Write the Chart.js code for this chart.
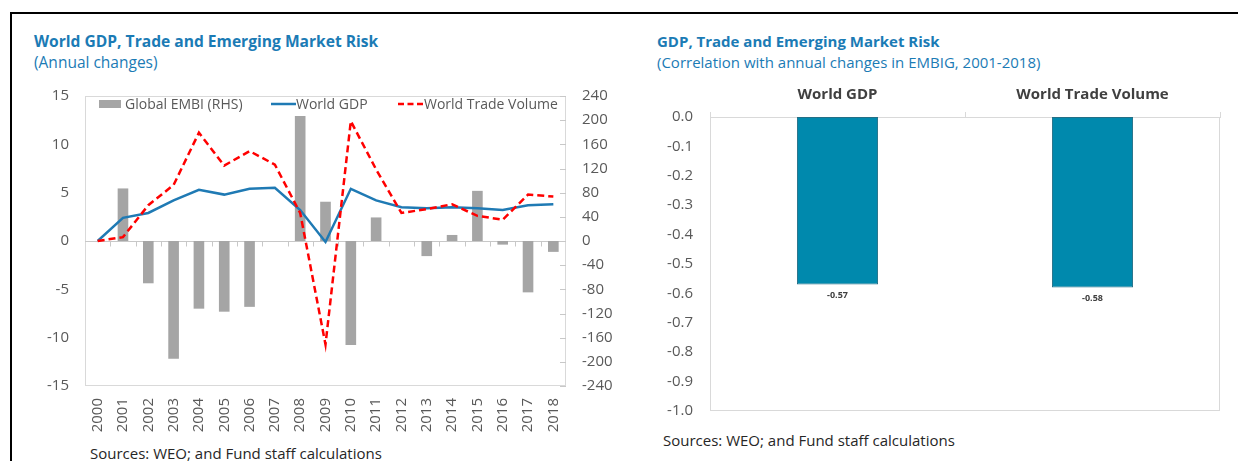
<!DOCTYPE html>
<html>
<head>
<meta charset="utf-8">
<script src="https://cdn.jsdelivr.net/npm/chart.js@4.4.1/dist/chart.umd.min.js"></script>
<style>
  body { margin: 0; width: 1238px; height: 461px; position: relative; background: #fff; overflow: hidden; font-family: "Open Sans", sans-serif; }
  .frame { position: absolute; left: 10px; top: 12px; right: 0; bottom: -5px; border-top: 2px solid #000; border-left: 2px solid #000; }
  .title { position: absolute; font-size: 15px; font-weight: 700; color: #1b7bb5; line-height: 20px; white-space: nowrap; }
  .sub { position: absolute; font-size: 15px; color: #1b7bb5; line-height: 20px; white-space: nowrap; }
  .src { position: absolute; font-size: 15px; color: #262626; line-height: 20px; white-space: nowrap; }
  .leg { position: absolute; font-size: 14px; color: #595959; line-height: 16px; top: 96px; white-space: nowrap; }
  canvas { position: absolute; }
</style>
</head>
<body>
<div class="frame"></div>

<div class="title" style="left:34px;top:31px;font-size:15.6px">World GDP, Trade and Emerging Market Risk</div>
<div class="sub" style="left:34px;top:52px;font-size:15.5px">(Annual changes)</div>
<canvas id="chartLeft" width="600" height="360" style="left:20px;top:80px"></canvas>
<div style="position:absolute;left:99px;top:100px;width:22px;height:8px;background:#a5a5a5"></div>
<div class="leg" style="left:125px">Global EMBI (RHS)</div>
<svg style="position:absolute;left:271px;top:101px" width="25" height="6"><line x1="0" y1="3" x2="25" y2="3" stroke="#1f7ab4" stroke-width="2.5"/></svg>
<div class="leg" style="left:296px">World GDP</div>
<svg style="position:absolute;left:398px;top:101px" width="26" height="6"><line x1="0" y1="3" x2="26" y2="3" stroke="#ff0000" stroke-width="2.5" stroke-dasharray="6,3.5"/></svg>
<div class="leg" style="left:424px">World Trade Volume</div>
<div class="src" style="left:90px;top:443px">Sources: WEO; and Fund staff calculations</div>

<div class="title" style="left:657px;top:31px">GDP, Trade and Emerging Market Risk</div>
<div class="sub" style="left:657px;top:52px">(Correlation with annual changes in EMBIG, 2001-2018)</div>
<canvas id="chartRight" width="598" height="345" style="left:640px;top:70px"></canvas>
<div class="src" style="left:663px;top:430px">Sources: WEO; and Fund staff calculations</div>

<script>
// left panel data
const years = ['2000', '2001', '2002', '2003', '2004', '2005', '2006', '2007', '2008', '2009',
  '2010', '2011', '2012', '2013', '2014', '2015', '2016', '2017', '2018'];
const embiChange = [0, 87, -70, -195, -112, -117, -109, 0, 207, 65, -172, 39, 0, -25, 10, 83, -6, -85, -18];
const worldGdp = [0, 2.4, 2.9, 4.2, 5.3, 4.8, 5.4, 5.5, 3.2, -0.1, 5.4, 4.2, 3.5, 3.4, 3.5, 3.4, 3.2, 3.7, 3.8];
const worldTrade = [0, 0.4, 3.7, 5.8, 11.2, 7.8, 9.3, 7.9, 2.9, -10.7, 12.4, 7.4, 2.9, 3.3, 3.8, 2.6, 2.2, 4.8, 4.6];
const leftTicks = [-15, -10, -5, 0, 5, 10, 15];
const rightTicks = [-240, -200, -160, -120, -80, -40, 0, 40, 80, 120, 160, 200, 240];

// right panel data
const corrLabels = ['World GDP', 'World Trade Volume'];
const corrValues = [-0.57, -0.58];

const tickFont = { family: 'Open Sans', size: 15 };
const tickColor = '#595959';
const lineGray = '#d9d9d9';

// keep the axes from pushing the plot area in for half-label padding
function noEdgePadding(s) {
  s.paddingTop = 0;
  s.paddingBottom = 0;
  s.paddingLeft = 0;
  s.paddingRight = 0;
}

// plot frame, zero line with small ticks, inner ticks on the right axis
const frameLines = {
  id: 'frameLines',
  beforeDatasetsDraw(chart, args, opts) {
    const { ctx, chartArea: a, scales } = chart;
    ctx.save();
    ctx.lineWidth = 1;
    ctx.strokeStyle = lineGray;
    ctx.strokeRect(a.left + 0.5, a.top + 0.5, a.width - 1, a.height - 1);
    if (opts.zeroLine) {
      ctx.strokeStyle = '#c8c8c8';
      ctx.beginPath();
      const y0 = Math.round(scales.y.getPixelForValue(0)) + 0.5;
      ctx.moveTo(a.left, y0);
      ctx.lineTo(a.right, y0);
      const x = scales.x;
      for (let i = 1; i < x.ticks.length; i++) {
        const bx = Math.round((x.getPixelForTick(i - 1) + x.getPixelForTick(i)) / 2) + 0.5;
        ctx.moveTo(bx, y0);
        ctx.lineTo(bx, y0 + 5);
      }
      scales.y1.ticks.forEach(t => {
        const py = Math.round(scales.y1.getPixelForValue(t.value)) + 0.5;
        ctx.moveTo(a.right - 6, py);
        ctx.lineTo(a.right, py);
      });
      ctx.stroke();
    }
    ctx.restore();
  }
};

new Chart(document.getElementById('chartLeft'), {
  type: 'bar',
  data: {
    labels: years,
    datasets: [
      {
        type: 'line',
        label: 'World Trade Volume',
        data: worldTrade,
        yAxisID: 'y',
        borderColor: '#ff0000',
        borderWidth: 2.5,
        borderDash: [7, 4],
        pointRadius: 0,
        tension: 0,
        order: 1
      },
      {
        type: 'line',
        label: 'World GDP',
        data: worldGdp,
        yAxisID: 'y',
        borderColor: '#1f7ab4',
        borderWidth: 2.5,
        pointRadius: 0,
        tension: 0,
        order: 2
      },
      {
        type: 'bar',
        label: 'Global EMBI (RHS)',
        data: embiChange,
        yAxisID: 'y1',
        backgroundColor: '#a5a5a5',
        barPercentage: 0.42,
        categoryPercentage: 1,
        order: 3
      }
    ]
  },
  options: {
    responsive: false,
    animation: false,
    devicePixelRatio: 1,
    layout: { padding: { top: 16, left: 0, right: 0, bottom: 0 } },
    plugins: {
      legend: { display: false },
      tooltip: { enabled: false },
      frameLines: { zeroLine: true }
    },
    scales: {
      x: {
        grid: { display: false, drawTicks: false },
        border: { display: false },
        ticks: {
          color: tickColor, font: tickFont, padding: 12,
          autoSkip: false, minRotation: 90, maxRotation: 90
        },
        afterFit: s => { s.height = 54; noEdgePadding(s); }
      },
      y: {
        position: 'left',
        min: -15, max: 15,
        afterBuildTicks: s => { s.ticks = leftTicks.map(v => ({ value: v })); },
        grid: { display: false, drawTicks: false },
        border: { display: false },
        ticks: { color: tickColor, font: tickFont, padding: 16 },
        afterFit: s => { s.width = 65; noEdgePadding(s); }
      },
      y1: {
        position: 'right',
        min: -240, max: 240,
        afterBuildTicks: s => { s.ticks = rightTicks.map(v => ({ value: v })); },
        grid: { display: false, drawTicks: false },
        border: { display: false },
        ticks: { color: tickColor, font: tickFont, padding: 16 },
        afterFit: s => { s.width = 54; noEdgePadding(s); }
      }
    }
  },
  plugins: [frameLines]
});

// value labels under the bars
const barValueLabels = {
  id: 'barValueLabels',
  afterDatasetsDraw(chart) {
    const { ctx } = chart;
    const meta = chart.getDatasetMeta(0);
    ctx.save();
    ctx.font = 'bold 9px "Open Sans"';
    ctx.fillStyle = '#404040';
    ctx.textAlign = 'center';
    ctx.textBaseline = 'top';
    meta.data.forEach((bar, i) => {
      ctx.fillText(chart.data.datasets[0].data[i].toFixed(2), bar.x, bar.y + 6);
    });
    ctx.restore();
  }
};

new Chart(document.getElementById('chartRight'), {
  type: 'bar',
  data: {
    labels: corrLabels,
    datasets: [{
      label: 'Correlation',
      data: corrValues,
      backgroundColor: '#0089ad',
      borderColor: '#246f86',
      borderWidth: 1,
      borderSkipped: false,
      barPercentage: 0.318,
      categoryPercentage: 1
    }]
  },
  options: {
    responsive: false,
    animation: false,
    devicePixelRatio: 1,
    layout: { padding: { top: 0, left: 0, right: 18, bottom: 4 } },
    plugins: {
      legend: { display: false },
      tooltip: { enabled: false },
      frameLines: { zeroLine: false }
    },
    scales: {
      x: {
        position: 'top',
        offset: true,
        grid: { display: true, drawOnChartArea: false, drawTicks: true, tickLength: 5, offset: true, color: lineGray },
        border: { display: true, color: lineGray },
        ticks: { color: '#404040', font: { family: 'Open Sans', size: 15, weight: 'bold' }, padding: 8 },
        afterFit: s => { s.height = 47; noEdgePadding(s); }
      },
      y: {
        min: -1, max: 0,
        ticks: { stepSize: 0.1, color: tickColor, font: tickFont, padding: 17, callback: v => v.toFixed(1) },
        grid: { display: false, drawTicks: false },
        border: { display: false },
        afterFit: s => { s.width = 70; noEdgePadding(s); }
      }
    }
  },
  plugins: [frameLines, barValueLabels]
});
</script>
</body>
</html>
